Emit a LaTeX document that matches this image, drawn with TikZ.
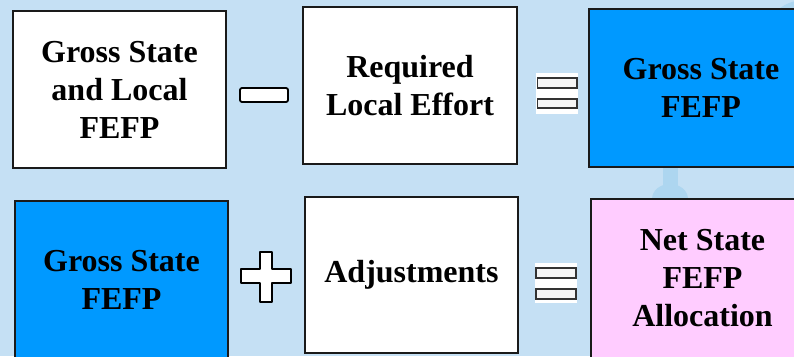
\documentclass[tikz,border=0pt]{standalone}
\usepackage{fontspec}
\setmainfont{Liberation Serif}
\usetikzlibrary{backgrounds}
\definecolor{bgblue}{HTML}{C5E0F4}
\definecolor{faintblue}{HTML}{ADD6F0}
\definecolor{boxblue}{HTML}{0099FF}
\definecolor{boxpink}{HTML}{FFCCFF}
\definecolor{edge}{HTML}{1A1A1A}
\tikzset{
  box/.style={draw=edge, line width=1.6pt, fill=white, align=center, inner sep=0pt,
    font=\fontsize{32}{38}\selectfont\bfseries},
  signshape/.style={draw=black, line width=1.8pt, fill=white, line join=round},
  eqbar/.style={draw=black!80, line width=1.4pt, fill=black!4},
}
\begin{document}
\begin{tikzpicture}[x=1pt,y=-1pt]
\useasboundingbox (0,0) rectangle (794,356);
\clip (0,0) rectangle (794,356);
% boxes
\node[box, minimum width=213pt, minimum height=157pt] (gsl) at (119.5,89.5) {Gross State\\and Local\\FEFP};
\node[box, minimum width=214pt, minimum height=157pt] (rle) at (410,85.5) {Required\\Local Effort};
\node[box, fill=boxblue, minimum width=224pt, minimum height=158pt] (gs1) at (701,88) {Gross State\\FEFP};
\node[box, fill=boxblue, minimum width=213pt, minimum height=158pt] (gs2) at (121.5,280) {Gross State\\FEFP};
\node[box, minimum width=213pt, minimum height=156pt] (adj) at (411.5,275) {Adjustments};
\node[box, fill=boxpink, minimum width=223pt, minimum height=159pt] (net) at (702.5,278.5) {Net State\\FEFP\\Allocation};
% minus sign
\draw[signshape, rounded corners=2pt] (240,88) rectangle (288,102);
% plus sign
\draw[signshape] (260,252) -- (272,252) -- (272,269) -- (291,269) -- (291,283) -- (272,283)
  -- (272,302) -- (260,302) -- (260,283) -- (241,283) -- (241,269) -- (260,269) -- cycle;
% equals signs
\fill[white] (536,73) rectangle (578,114);
\draw[eqbar] (537.5,78) rectangle (577,88);
\draw[eqbar] (537.5,99) rectangle (577,108);
\fill[white] (535,263) rectangle (577,303);
\draw[eqbar] (536,268) rectangle (576,278);
\draw[eqbar] (536,289) rectangle (576,299);
% background and faint connector
\begin{pgfonlayer}{background}
\fill[bgblue] (0,0) rectangle (794,356);
\fill[faintblue] (805,43) circle[radius=43];
\draw[faintblue, line width=15pt] (gs1.south -| 670,0) -- (net.north -| 670,0);
\fill[faintblue] (652,199) arc[start angle=180, end angle=360, x radius=18, y radius=15] -- cycle;
\end{pgfonlayer}
\end{tikzpicture}
\end{document}
